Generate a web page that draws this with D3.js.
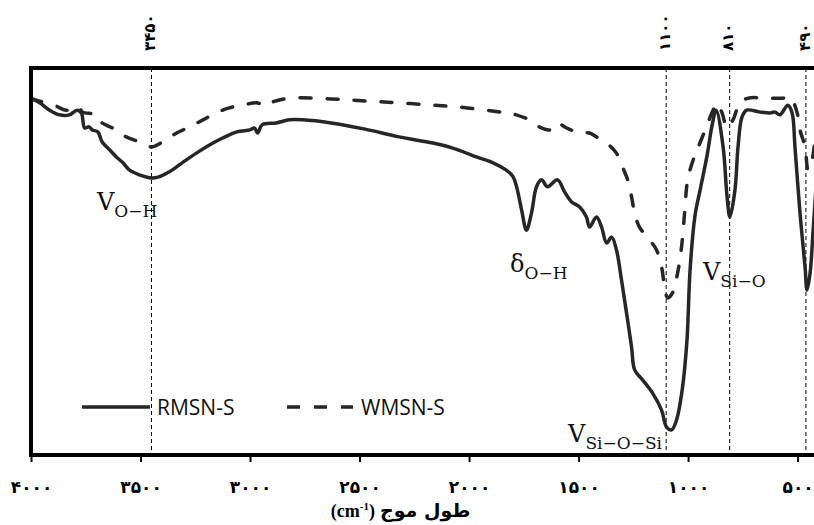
<!DOCTYPE html>
<html>
<head>
<meta charset="utf-8">
<script src="https://cdn.jsdelivr.net/npm/d3@7"></script>
<style>
  body { margin: 0; background: #fff; }
  svg { display: block; }
</style>
</head>
<body>
<div id="chart"></div>
<script>
// FTIR spectra, RMSN-S vs WMSN-S

// [wavenumber cm-1, transmittance (arb. %)]
var rmsn = [
	[4000, 92.2], [3960, 91.0], [3915, 89.1], [3870, 87.9], [3825, 87.9], [3790, 89.1],
	[3770, 88.4], [3755, 84.5], [3735, 84.8], [3720, 84.0], [3695, 83.5], [3675, 80.9],
	[3640, 78.8], [3610, 77.0], [3580, 75.5], [3550, 73.6], [3505, 72.4], [3450, 71.6],
	[3420, 71.8], [3370, 73.1], [3310, 75.5], [3245, 78.0], [3185, 80.1], [3125, 81.9],
	[3060, 83.5], [3000, 84.0], [2980, 84.5], [2965, 83.2], [2945, 85.3], [2880, 85.8],
	[2820, 86.6], [2760, 86.6], [2630, 85.8], [2475, 84.2], [2320, 82.2], [2165, 80.6],
	[2075, 79.3], [1950, 76.7], [1890, 75.5], [1830, 73.6], [1800, 72.0], [1783, 69.3],
	[1760, 63.3], [1738, 58.1], [1715, 62.5], [1692, 69.3], [1669, 71.1], [1642, 69.3],
	[1596, 71.1], [1564, 68.0], [1532, 65.4], [1495, 64.1], [1464, 61.5], [1450, 58.9],
	[1418, 61.5], [1395, 58.9], [1372, 54.8], [1349, 56.3], [1327, 53.0], [1304, 45.2],
	[1281, 36.7], [1258, 27.9], [1244, 22.0], [1208, 19.4], [1162, 16.0], [1121, 11.6],
	[1098, 7.2], [1075, 6.5], [1053, 9.0], [1027, 16.8], [1005, 29.7], [991, 47.8],
	[968, 62.0], [945, 68.5], [913, 77.5], [890, 85.3], [872, 89.1], [840, 79.6],
	[822, 66.7], [809, 61.5], [786, 68.5], [772, 79.6], [754, 87.3], [733, 89.1],
	[671, 88.6], [626, 88.4], [603, 88.6], [581, 87.9], [544, 90.4], [525, 88.4],
	[512, 79.6], [489, 62.5], [466, 48.6], [457, 42.6], [443, 47.0], [429, 58.1],
	[411, 73.6]
];

var wmsn = [
	[4000, 92.0], [3895, 90.4], [3840, 89.1], [3780, 89.9], [3765, 88.6], [3700, 87.9],
	[3680, 86.0], [3610, 84.0], [3565, 82.2], [3505, 80.9], [3450, 79.6], [3400, 80.9],
	[3335, 83.2], [3275, 84.8], [3215, 86.6], [3155, 88.4], [3095, 89.7], [3035, 90.4],
	[2970, 91.0], [2925, 90.2], [2897, 91.2], [2820, 92.2], [2630, 92.0], [2475, 91.5],
	[2320, 91.0], [2165, 90.4], [2045, 89.9], [1920, 89.1], [1830, 88.4], [1785, 87.9],
	[1725, 86.6], [1680, 84.8], [1632, 84.0], [1600, 85.8], [1555, 84.5], [1495, 83.2],
	[1450, 83.2], [1418, 82.2], [1372, 80.6], [1327, 78.0], [1299, 74.4], [1276, 71.1],
	[1258, 66.7], [1244, 62.5], [1222, 58.9], [1176, 55.6], [1144, 53.0], [1121, 48.6],
	[1107, 43.4], [1093, 40.6], [1071, 41.9], [1048, 47.0], [1030, 53.7], [1016, 62.5],
	[1002, 71.1], [977, 76.2], [959, 78.8], [922, 84.0], [886, 89.1], [868, 90.9],
	[845, 88.4], [822, 84.5], [795, 86.6], [763, 91.0], [726, 92.2], [639, 92.2],
	[566, 92.2], [534, 92.5], [502, 88.4], [489, 84.0], [466, 79.6], [452, 73.6],
	[434, 76.2], [411, 86.6]
];

var xTicks = [4000, 3500, 3000, 2500, 2000, 1500, 1000, 500];
var peakWn = [3450, 1100, 810, 462];
var peakLabels = ['۳۴۵۰', '۱۱۰۰', '۸۱۰', '۴۹۰'];

// band labels: symbol, subscript, wavenumber / transmittance of text start
var bandSym = ['V', 'δ', 'V', 'V'];
var bandSub = ['O−H', 'O−H', 'Si−O', 'Si−O−Si'];
var bandAt = [[3699, 63.3], [1813, 47.3], [932, 45.2], [1548, 3.4]];

var seriesNames = ['RMSN-S', 'WMSN-S'];

var width = 814, height = 525;
var ink = '#262626';

function fa(n) {
	return String(n).replace(/\d/g, function(c) { return '۰۱۲۳۴۵۶۷۸۹'[c]; });
}

var svg = d3.select('#chart').append('svg')
	.attr('width', width).attr('height', height);

var x = d3.scaleLinear().domain([4000, 400]).range([31, 819.5]);
var y = d3.scaleLinear().domain([0, 100]).range([455, 68]);

// peak marker lines
svg.append('g').selectAll('line')
	.data(peakWn)
	.enter().append('line')
	.attr('x1', function(d) { return x(d); })
	.attr('x2', function(d) { return x(d); })
	.attr('y1', y(100)).attr('y2', y(0))
	.attr('stroke', '#000').attr('stroke-width', 1)
	.attr('stroke-dasharray', '4,3');

svg.append('g').selectAll('text')
	.data(peakWn)
	.enter().append('text')
	.attr('transform', function(d) { return 'translate(' + x(d) + ',51) rotate(-90)'; })
	.attr('dy', '0.25em')
	.attr('font-family', 'DejaVu Sans')
	.attr('font-weight', 'bold')
	.attr('font-size', 15)
	.text(function(d, i) { return peakLabels[i]; });

// spectra
var line = d3.line()
	.x(function(d) { return x(d[0]); })
	.y(function(d) { return y(d[1]); })
	.curve(d3.curveCatmullRom.alpha(0.5));

svg.append('path')
	.datum(wmsn)
	.attr('d', line)
	.attr('fill', 'none').attr('stroke', ink)
	.attr('stroke-width', 3.5)
	.attr('stroke-linecap', 'round')
	.attr('stroke-dasharray', '11,16');

svg.append('path')
	.datum(rmsn)
	.attr('d', line)
	.attr('fill', 'none').attr('stroke', ink)
	.attr('stroke-width', 3.5)
	.attr('stroke-linejoin', 'round');

// frame (right side is outside the picture)
svg.append('path')
	.attr('d', 'M' + (width + 10) + ',' + y(100) + 'H' + x(4000) + 'V' + y(0) + 'H' + (width + 10))
	.attr('fill', 'none').attr('stroke', '#000').attr('stroke-width', 4);

// x axis
var xAxis = d3.axisBottom(x)
	.tickValues(xTicks)
	.tickSize(7)
	.tickPadding(19)
	.tickFormat(fa);

var gx = svg.append('g')
	.attr('transform', 'translate(0,' + y(0) + ')')
	.call(xAxis);
gx.select('.domain').remove();
gx.selectAll('.tick line').attr('stroke', '#000').attr('stroke-width', 2);
gx.selectAll('.tick text')
	.attr('font-family', 'DejaVu Sans')
	.attr('font-weight', 'bold')
	.attr('font-size', 17)
	.attr('fill', '#000');

// axis title: (cm-1) on the left, Persian on the right
var tt = svg.append('text')
	.attr('x', 375).attr('y', 517)
	.attr('text-anchor', 'end')
	.attr('font-family', 'Liberation Serif')
	.attr('font-weight', 'bold')
	.attr('font-size', 18);
tt.append('tspan').text('(cm');
tt.append('tspan').attr('font-size', 11).attr('dy', -7).text('-1');
tt.append('tspan').attr('dy', 7).text(')');

svg.append('text')
	.attr('x', 380).attr('y', 517)
	.attr('font-family', 'DejaVu Sans')
	.attr('font-weight', 'bold')
	.attr('font-size', 19)
	.text('طول موج');

// band annotations
var bands = svg.append('g').selectAll('text')
	.data(bandAt)
	.enter().append('text')
	.attr('x', function(d) { return x(d[0]); })
	.attr('y', function(d) { return y(d[1]); })
	.attr('font-family', 'DejaVu Serif')
	.attr('fill', '#111');
bands.append('tspan')
	.attr('font-size', 24)
	.text(function(d, i) { return bandSym[i]; });
bands.append('tspan')
	.attr('font-size', 17)
	.attr('dy', 7)
	.text(function(d, i) { return bandSub[i]; });

// legend
var leg = svg.append('g');
leg.append('line')
	.attr('x1', 82).attr('x2', 150).attr('y1', 407).attr('y2', 407)
	.attr('stroke', ink).attr('stroke-width', 3.5);
leg.append('line')
	.attr('x1', 287).attr('x2', 353).attr('y1', 407).attr('y2', 407)
	.attr('stroke', ink).attr('stroke-width', 3.5)
	.attr('stroke-dasharray', '13,14');
leg.selectAll('text')
	.data(seriesNames)
	.enter().append('text')
	.attr('x', function(d, i) { return i === 0 ? 157 : 361; })
	.attr('y', 415)
	.attr('font-family', 'Open Sans')
	.attr('font-size', 21)
	.attr('fill', '#111')
	.text(function(d) { return d; });
</script>
</body>
</html>
